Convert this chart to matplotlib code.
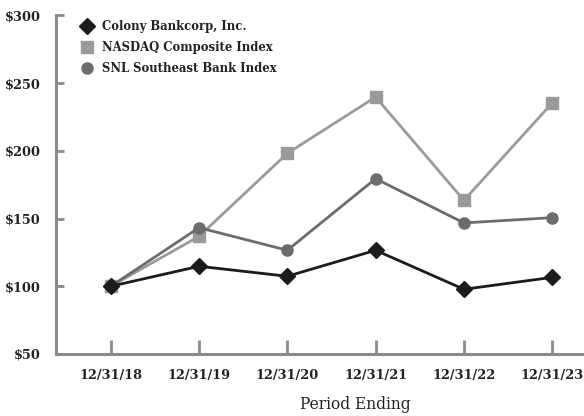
import matplotlib
matplotlib.use("Agg")
import matplotlib.pyplot as plt
from matplotlib.lines import Line2D

periods = ["12/31/18", "12/31/19", "12/31/20", "12/31/21", "12/31/22", "12/31/23"]
colony = [100.0, 114.8, 107.4, 126.6, 97.8, 106.6]
nasdaq = [100.0, 136.9, 198.2, 239.8, 163.5, 235.4]
snl = [100.0, 143.3, 126.6, 179.5, 146.8, 150.7]
ytick_vals = [50, 100, 150, 200, 250, 300]
ytick_labels = ["$50", "$100", "$150", "$200", "$250", "$300"]

W, H = 584, 416
fig = plt.figure(figsize=(W / 100, H / 100), dpi=100)
left, right, top, bottom = 56, 584, 15.5, 354
ax = fig.add_axes([left / W, (H - bottom) / H, (right - left) / W, (bottom - top) / H])

x = list(range(len(periods)))
c_col, c_nas, c_snl = "#1c1a1b", "#9a9a9c", "#6c6c6e"
ax.plot(x, nasdaq, color=c_nas, lw=2, marker="s", ms=8, zorder=2)
ax.plot(x, snl, color=c_snl, lw=2, marker="o", ms=8, zorder=3)
ax.plot(x, colony, color=c_col, lw=2, marker="D", ms=8, zorder=4)

ax.set_xlim(-0.62, 5.36)
ax.set_ylim(50, 300)
for s in ["top", "right"]:
    ax.spines[s].set_visible(False)
for s in ["left", "bottom"]:
    ax.spines[s].set_color("#8a8a8c")
    ax.spines[s].set_linewidth(2.2)

font = dict(family="DejaVu Serif", weight="bold", size=9.3, color="#222222")
ax.set_xticks(x)
ax.set_xticklabels(periods, **font)
ax.set_yticks(ytick_vals)
ax.set_yticklabels(ytick_labels, **font)
ax.tick_params(axis="x", direction="in", length=10, width=2, color="#8a8a8c", pad=11)
ax.tick_params(axis="y", direction="in", length=6, width=2, color="#8a8a8c", pad=11)
ax.set_xlabel("Period Ending", family="DejaVu Serif", size=11.2, color="#222222")
ax.xaxis.set_label_coords((355 - left) / (right - left), -0.125)

handles = [
    Line2D([], [], color=c_col, marker="D", ms=8, lw=0),
    Line2D([], [], color=c_nas, marker="s", ms=8, lw=0),
    Line2D([], [], color=c_snl, marker="o", ms=8, lw=0),
]
labels = ["Colony Bankcorp, Inc.", "NASDAQ Composite Index", "SNL Southeast Bank Index"]
leg = ax.legend(handles, labels, loc="upper left", bbox_to_anchor=(20 / (right - left), 1.0),
                frameon=False, prop=dict(family="DejaVu Serif", weight="bold", size=8.4),
                handlelength=1.0, handletextpad=0.8, labelspacing=0.7, borderaxespad=0)
for t in leg.get_texts():
    t.set_color("#222222")

fig.savefig("out.png", dpi=100)
